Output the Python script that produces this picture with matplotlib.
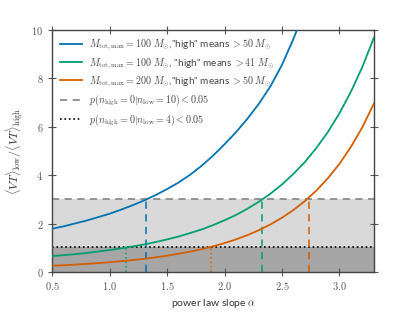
import matplotlib
matplotlib.use("Agg")
import matplotlib.pyplot as plt
import numpy as np

plt.rcParams['mathtext.fontset'] = 'cm'
plt.rcParams['font.family'] = ['Lato', 'DejaVu Sans']

alpha = [0.5, 0.6, 0.7, 0.8, 0.9, 1.0, 1.1, 1.2, 1.3, 1.4, 1.5, 1.6, 1.7, 1.8, 1.9,
         2.0, 2.1, 2.2, 2.3, 2.4, 2.5, 2.6, 2.7, 2.8, 2.9, 3.0, 3.1, 3.2, 3.3]

ratio_100_50 = [1.79, 1.89, 2.01, 2.13, 2.27, 2.41, 2.58, 2.76, 2.96, 3.18, 3.43, 3.70,
                4.02, 4.39, 4.81, 5.28, 5.78, 6.34, 6.96, 7.68, 8.56, 9.64, 10.85,
                12.2, 13.7, 15.4, 17.3, 19.5, 22.0]
ratio_100_41 = [0.66, 0.70, 0.74, 0.79, 0.85, 0.91, 0.98, 1.06, 1.14, 1.24, 1.35, 1.47,
                1.61, 1.76, 1.94, 2.14, 2.36, 2.62, 2.91, 3.24, 3.62, 4.06, 4.55, 5.13,
                5.79, 6.56, 7.45, 8.48, 9.68]
ratio_200_50 = [0.26, 0.283, 0.309, 0.338, 0.370, 0.407, 0.449, 0.496, 0.549, 0.609,
                0.678, 0.756, 0.845, 0.946, 1.063, 1.197, 1.351, 1.528, 1.733, 1.970,
                2.246, 2.565, 2.936, 3.37, 3.88, 4.47, 5.17, 5.99, 6.96]

labels = [r'$M_{\rm tot,max}=100\ M_{\odot}$,"high" means $>50\ M_{\odot}$',
          r'$M_{\rm tot,max}=100\ M_{\odot}$, "high" means $>41\ M_{\odot}$',
          r'$M_{\rm tot,max}=200\ M_{\odot}$,"high" means $>50\ M_{\odot}$']
colors = ['#0173B2', '#029E73', '#D55E00']

thr_n10 = 3.0
thr_n4 = 1.04
cross_n10 = [1.32, 2.33, 2.735]   # alpha where each curve crosses thr_n10
cross_n4 = [None, 1.145, 1.878]   # alpha where each curve crosses thr_n4

xticks = [0.5, 1.0, 1.5, 2.0, 2.5, 3.0]
yticks = [0, 2, 4, 6, 8, 10]

fig = plt.figure(figsize=(4.15, 3.12), dpi=100)
ax = fig.add_axes([0.126, 0.128, 0.775, 0.776])

ax.axhspan(0, thr_n10, color='#d9d9d9', zorder=0, lw=0)
ax.axhspan(0, thr_n4, color='#a6a6a6', zorder=0.5, lw=0)

for y, c, lab in zip([ratio_100_50, ratio_100_41, ratio_200_50], colors, labels):
    ax.plot(alpha, y, color=c, lw=1.3, label=lab, zorder=3)

ax.axhline(thr_n10, color='#8c8c8c', ls='--', lw=1.3, dashes=(4, 3),
           label=r'$p(n_{\rm high}=0|n_{\rm low}=10)<0.05$', zorder=2)
ax.axhline(thr_n4, color='black', ls=':', lw=1.2,
           label=r'$p(n_{\rm high}=0|n_{\rm low}=4)<0.05$', zorder=2)

for c, xa in zip(colors, cross_n10):
    ax.plot([xa, xa], [0, thr_n10], color=c, ls='--', lw=1.3, dashes=(4, 3), alpha=0.85, zorder=2)
for c, xa in zip(colors, cross_n4):
    if xa is not None:
        ax.plot([xa, xa], [0, thr_n4], color=c, ls=':', lw=1.2, alpha=0.85, zorder=2)

ax.set_xlim(0.5, 3.3)
ax.set_ylim(0, 10)
ax.set_xticks(xticks)
ax.set_yticks(yticks)
ax.set_xticklabels([r'$%.1f$' % v for v in xticks])
ax.set_yticklabels([r'$%d$' % v for v in yticks])

for s in ax.spines.values():
    s.set_color('#444444')
    s.set_linewidth(1.0)
ax.tick_params(axis='both', which='both', direction='inout', length=6, width=0.8,
               colors='#555555', labelsize=7.5, top=True, right=True)
ax.tick_params(axis='x', pad=3)

xl = ax.set_xlabel(r'power law slope $\alpha$', fontsize=7.5, color='#333333', labelpad=3)
ax.set_ylabel(r'$\langle VT\rangle_{\rm low}/\langle VT\rangle_{\rm high}$', fontsize=8.5,
              color='#333333', labelpad=4)

# size the legend so the first entry spans ~182 px, as in the reference
renderer = fig.canvas.get_renderer()
px_per_pt = fig.dpi / 72.0
fs = 7.5
for _ in range(4):
    em = fs * px_per_pt
    leg = ax.legend(loc='upper left', frameon=False, fontsize=fs,
                    handlelength=22.0 / em, handletextpad=7.0 / em,
                    borderpad=0.0, borderaxespad=8.0 / em,
                    labelspacing=0.42)
    w = leg.get_texts()[0].get_window_extent(renderer).width
    fs = fs * 182.0 / w
for t in leg.get_texts():
    t.set_color('#444444')

xfs = 7.5
for _ in range(3):
    xl.set_fontsize(xfs)
    w = xl.get_window_extent(renderer).width
    xfs = xfs * 85.0 / w

fig.savefig('out.png', dpi=100)
